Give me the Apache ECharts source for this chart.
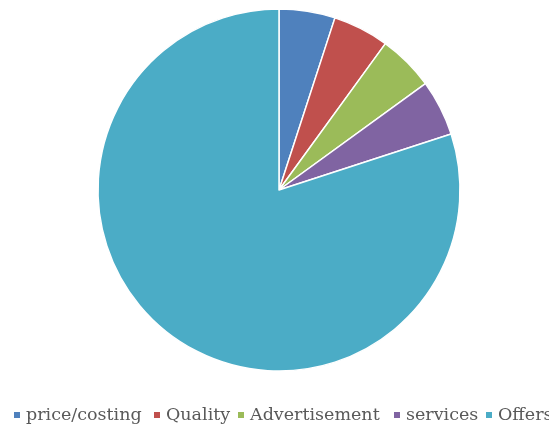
<!DOCTYPE html>
<html>
<head>
<meta charset="utf-8">
<script src="https://cdn.jsdelivr.net/npm/echarts@6/dist/echarts.min.js"></script>
<style>
  html, body { margin: 0; padding: 0; background: #fff; }
  #chart { width: 549px; height: 427px; }
</style>
</head>
<body>
<div id="chart"></div>
<script>
// Share of responses per factor
const categories = ['price/costing', 'Quality', 'Advertisement', 'services', 'Offers'];
const shares = [5, 5, 5, 5, 80];
const colors = ['#4F81BD', '#C0504D', '#9BBB59', '#8064A2', '#4BACC6'];

// Left edge of each legend entry along the bottom row
const legendLefts = [12, 152, 236, 392, 484];

const chart = echarts.init(document.getElementById('chart'), null, { renderer: 'canvas' });
chart.setOption({
  animation: false,
  color: colors,
  legend: categories.map((name, i) => ({
    data: [name],
    top: 406,
    left: legendLefts[i],
    padding: 0,
    icon: 'rect',
    itemWidth: 8,
    itemHeight: 8,
    selectedMode: false,
    textStyle: { fontFamily: '"DejaVu Serif", serif', fontSize: 17.5, color: '#595959' }
  })),
  series: [{
    type: 'pie',
    center: [279, 190],
    radius: [0, 181],
    startAngle: 90,
    clockwise: true,
    label: { show: false },
    labelLine: { show: false },
    itemStyle: { borderColor: '#fff', borderWidth: 1.5 },
    data: categories.map((name, i) => ({ name, value: shares[i] }))
  }]
});
</script>
</body>
</html>
